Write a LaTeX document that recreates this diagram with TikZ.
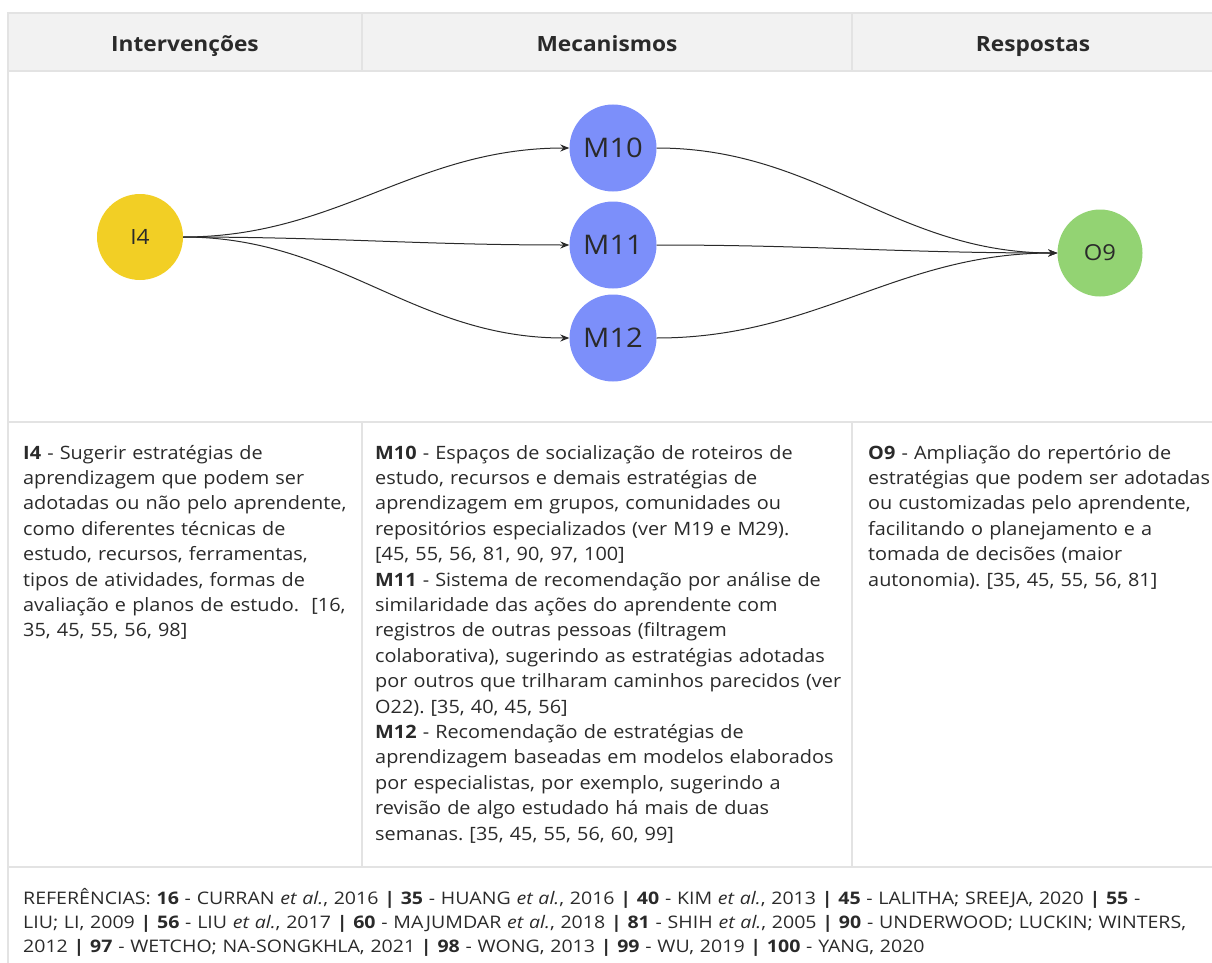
\documentclass[tikz,border=0pt]{standalone}
\usepackage{fontspec}
\setmainfont{Open Sans}[FakeStretch=1.08]
\newfontfamily\refsfont{Open Sans}[FakeStretch=1.13]
\usetikzlibrary{shapes.geometric,arrows.meta}
\frenchspacing

\definecolor{gridline}{HTML}{E3E3E3}
\definecolor{headfill}{HTML}{F2F2F2}
\definecolor{ifill}{HTML}{F2CF25}
\definecolor{mfill}{HTML}{7C8FFA}
\definecolor{ofill}{HTML}{93D373}
\definecolor{ink}{HTML}{2A2A2A}

\tikzset{
  gridrule/.style={gridline, line width=2.5pt},
  head/.style={anchor=base, text=ink, font=\fontsize{21}{25}\selectfont\bfseries},
  bubble/.style={ellipse, inner sep=0pt, text=ink},
  mnode/.style={bubble, fill=mfill, minimum width=87pt, minimum height=87pt,
    font=\fontsize{27}{27}\selectfont},
  link/.style={ink, line width=1pt, -{Stealth[length=9pt,width=7pt]}},
  desc/.style={anchor=base west, inner sep=0pt, text width=500pt, align=left,
    text=ink, font=\fontsize{18.4}{25.4}\selectfont},
  refs/.style={anchor=base west, inner sep=0pt, text width=1200pt, align=left,
    text=ink, font=\refsfont\fontsize{17.3}{24}\selectfont},
}

\begin{document}
\begin{tikzpicture}[x=1pt, y=-1pt]
  \useasboundingbox (0,0) rectangle (1212,963);

  % table
  \fill[headfill] (8,13) rectangle (1216,71);
  \draw[gridrule] (1216,13) -- (8,13) -- (8,970);
  \draw[gridrule] (8,71) -- (1216,71);
  \draw[gridrule] (8,422) -- (1216,422);
  \draw[gridrule] (8,867) -- (1216,867);
  \draw[gridrule] (362,13) -- (362,71) (852,13) -- (852,71);
  \draw[gridrule] (362,422) -- (362,867) (852,422) -- (852,867);

  % headers
  \node[head] (hint) at (185,52) {Intervenções};
  \node[head] (hmec) at (607,52) {Mecanismos};
  \node[head] (hres) at (1033,52) {Respostas};

  % nodes
  \node[bubble, fill=ifill, minimum width=86pt, minimum height=86pt,
    font=\fontsize{21}{21}\selectfont] (i4) at (140,237) {I4};
  \node[mnode] (m10) at (613,148) {M10};
  \node[mnode] (m11) at (613,245) {M11};
  \node[mnode] (m12) at (613,338) {M12};
  \node[bubble, fill=ofill, minimum width=85pt, minimum height=87pt,
    font=\fontsize{22}{22}\selectfont] (o9) at (1100,253) {O9};

  % connectors
  \draw[link] (i4.east) to[out=0, in=180] (m10.west);
  \draw[link] (i4.east) to[out=0, in=180] (m11.west);
  \draw[link] (i4.east) to[out=0, in=180] (m12.west);
  \draw[link] (m10.east) to[out=0, in=180] (o9.west);
  \draw[link] (m11.east) to[out=0, in=180] (o9.west);
  \draw[link] (m12.east) to[out=0, in=180] (o9.west);

  % descriptions
  \node[desc] (ti4) at (23,459) {\textbf{I4} - Sugerir estratégias de\\
    aprendizagem que podem ser\\
    adotadas ou não pelo aprendente,\\
    como diferentes técnicas de\\
    estudo, recursos, ferramentas,\\
    tipos de atividades, formas de\\
    avaliação e planos de estudo.~ [16,\\
    35, 45, 55, 56, 98]};
  \node[desc] (tm) at (375,459) {\textbf{M10} - Espaços de socialização de roteiros de\\
    estudo, recursos e demais estratégias de\\
    aprendizagem em grupos, comunidades ou\\
    repositórios especializados (ver M19 e M29).\\
    {[}45, 55, 56, 81, 90, 97, 100]\\
    \textbf{M11} - Sistema de recomendação por análise de\\
    similaridade das ações do aprendente com\\
    registros de outras pessoas (filtragem\\
    colaborativa), sugerindo as estratégias adotadas\\
    por outros que trilharam caminhos parecidos (ver\\
    O22). [35, 40, 45, 56]\\
    \textbf{M12} - Recomendação de estratégias de\\
    aprendizagem baseadas em modelos elaborados\\
    por especialistas, por exemplo, sugerindo a\\
    revisão de algo estudado há mais de duas\\
    semanas. [35, 45, 55, 56, 60, 99]};
  \node[desc] (to9) at (868,459) {\textbf{O9} - Ampliação do repertório de\\
    estratégias que podem ser adotadas\\
    ou customizadas pelo aprendente,\\
    facilitando o planejamento e a\\
    tomada de decisões (maior\\
    autonomia). [35, 45, 55, 56, 81]};

  % references
  \node[refs] (ref) at (23,904) {REFERÊNCIAS: \textbf{16} - CURRAN \textit{et al.}, 2016 \textbf{|} \textbf{35} - HUANG \textit{et al.}, 2016 \textbf{|} \textbf{40} - KIM \textit{et al.}, 2013 \textbf{|} \textbf{45} - LALITHA; SREEJA, 2020 \textbf{|} \textbf{55} -\\
    LIU; LI, 2009 \textbf{|} \textbf{56} - LIU \textit{et al.}, 2017 \textbf{|} \textbf{60} - MAJUMDAR \textit{et al.}, 2018 \textbf{|} \textbf{81} - SHIH \textit{et al.}, 2005 \textbf{|} \textbf{90} - UNDERWOOD; LUCKIN; WINTERS,\\
    2012 \textbf{|} \textbf{97} - WETCHO; NA-SONGKHLA, 2021 \textbf{|} \textbf{98} - WONG, 2013 \textbf{|} \textbf{99} - WU, 2019 \textbf{|} \textbf{100} - YANG, 2020};
\end{tikzpicture}
\end{document}
